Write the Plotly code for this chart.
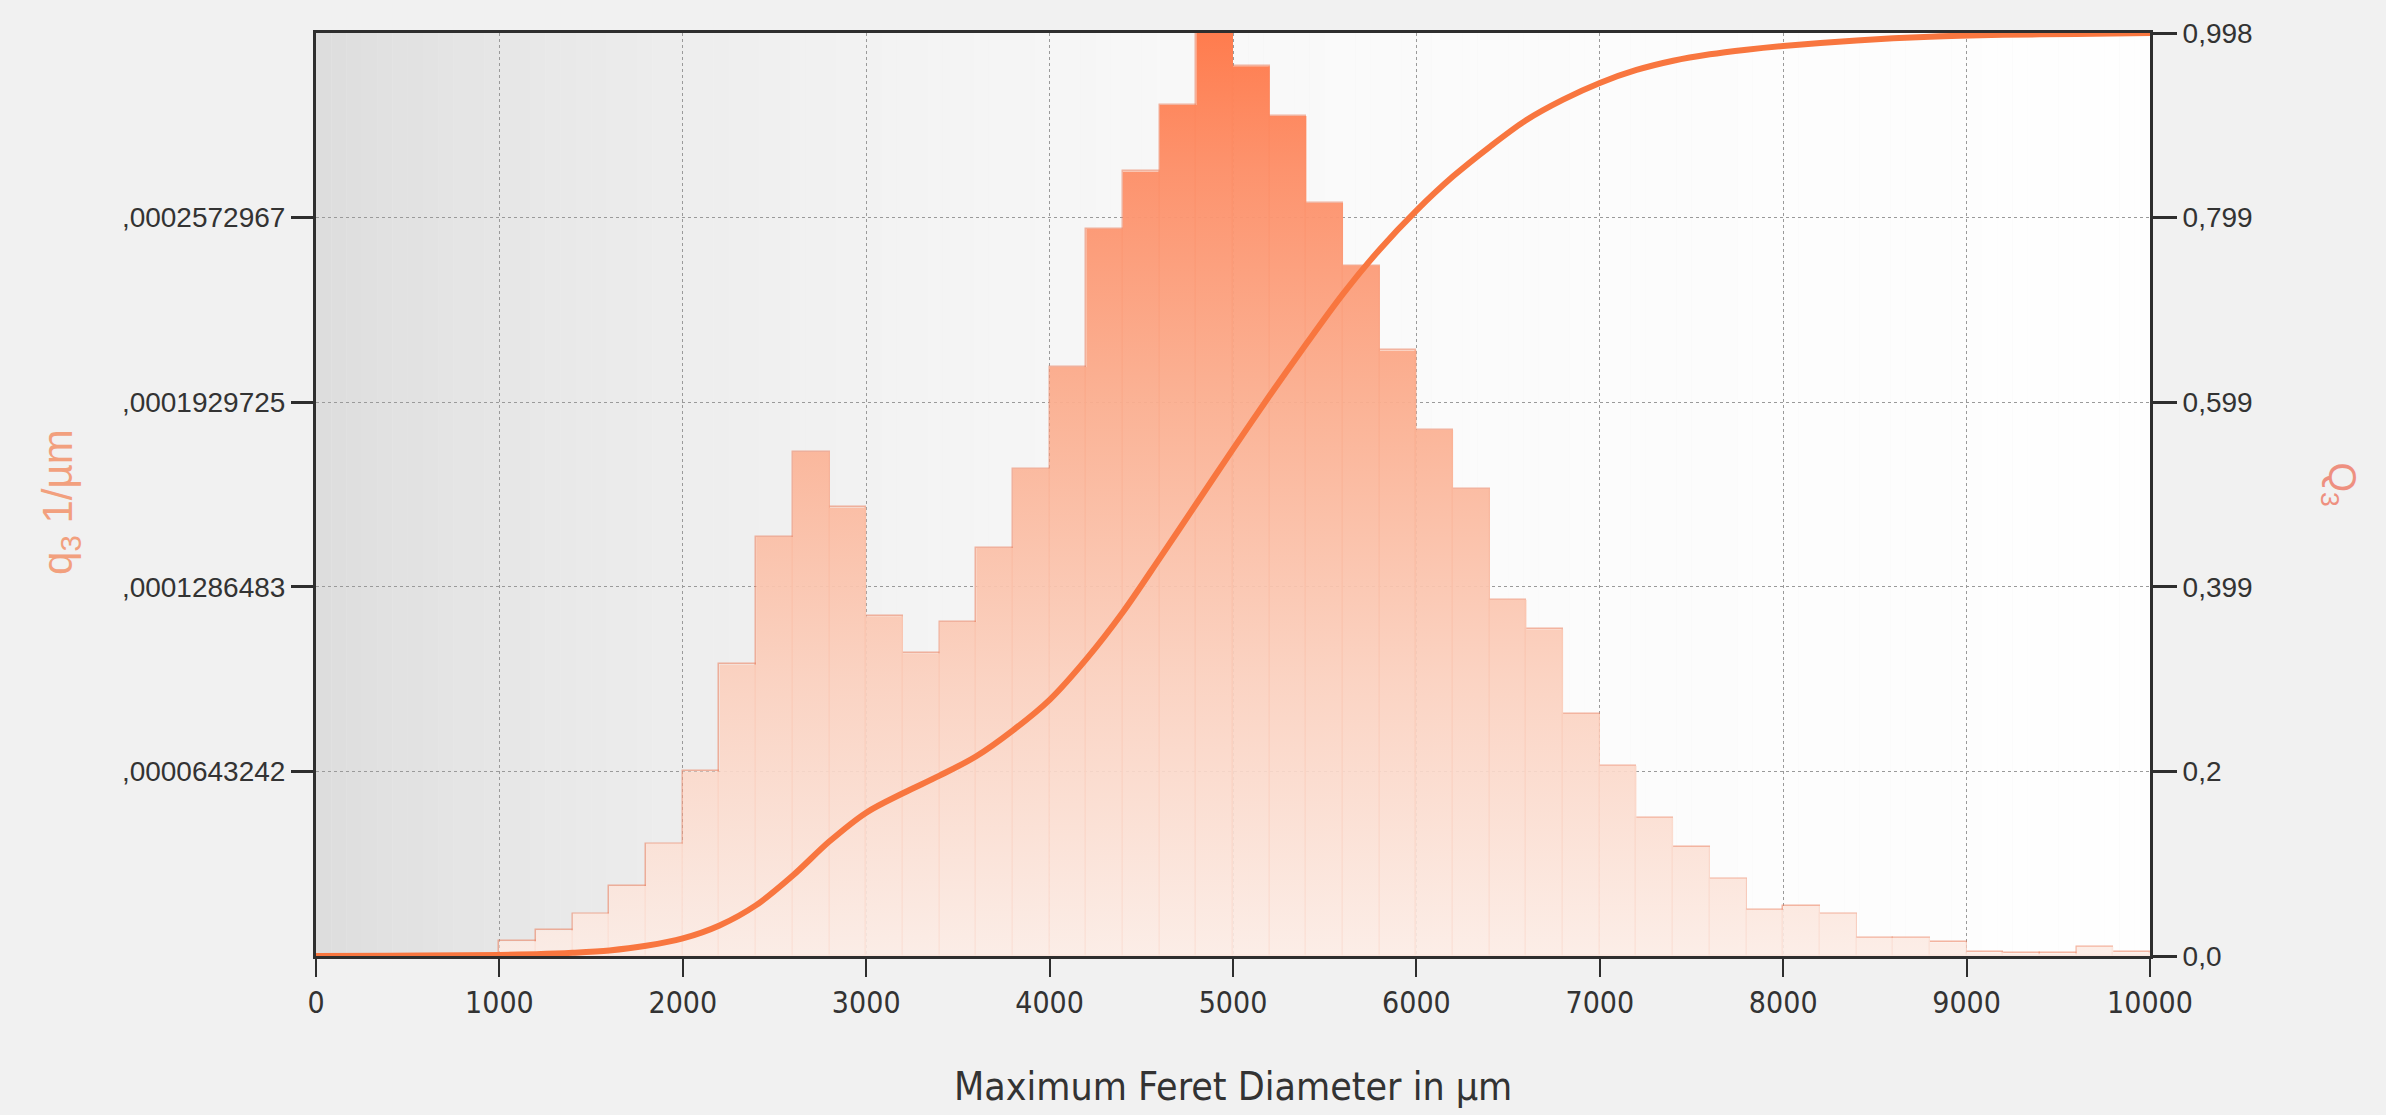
import math
import plotly.graph_objects as go

# ---------------- data ----------------
bin_width = 200
bin_starts = list(range(0, 10000, 200))
q3_values = [
    0, 0, 0, 0, 0,
    5.1e-6, 9.0e-6, 1.48e-5, 2.44e-5, 3.92e-5,
    6.43e-5, 1.016e-4, 1.460e-4, 1.756e-4, 1.563e-4,
    1.184e-4, 1.055e-4, 1.164e-4, 1.422e-4, 1.698e-4,
    2.052e-4, 2.534e-4, 2.734e-4, 2.965e-4, 3.229e-4,
    3.100e-4, 2.927e-4, 2.624e-4, 2.406e-4, 2.110e-4,
    1.833e-4, 1.627e-4, 1.241e-4, 1.139e-4, 8.43e-5,
    6.63e-5, 4.82e-5, 3.80e-5, 2.70e-5, 1.61e-5,
    1.74e-5, 1.48e-5, 6.4e-6, 6.4e-6, 4.8e-6,
    1.3e-6, 1.0e-6, 1.0e-6, 3.2e-6, 1.3e-6,
]

Q3_x = [0, 400, 800, 1000, 1200, 1400, 1600, 1800, 2000, 2200, 2400, 2600, 2800,
        3000, 3200, 3400, 3600, 3800, 4000, 4200, 4400, 4600, 4800, 5000, 5200,
        5400, 5600, 5800, 6000, 6200, 6400, 6600, 6800, 7000, 7200, 7400, 7600,
        7800, 8000, 8400, 8800, 9200, 9600, 10000]
Q3_y = [0, 0.0003, 0.0008, 0.0012, 0.002, 0.0035, 0.006, 0.011, 0.019, 0.033, 0.055,
        0.087, 0.124, 0.155, 0.176, 0.195, 0.216, 0.244, 0.277, 0.321, 0.372, 0.430,
        0.489, 0.548, 0.606, 0.662, 0.716, 0.764, 0.806, 0.843, 0.875, 0.904, 0.926,
        0.944, 0.958, 0.968, 0.975, 0.980, 0.984, 0.990, 0.994, 0.996, 0.997, 0.998]

x_tick_vals = list(range(0, 10001, 1000))
x_tick_labels = ["0", "1000", "2000", "3000", "4000", "5000",
                 "6000", "7000", "8000", "9000", "10000"]
left_tick_step = 0.0000643242
left_tick_labels = [",0000643242", ",0001286483", ",0001929725", ",0002572967"]
right_tick_vals = [0, 0.1996, 0.3992, 0.5988, 0.7984, 0.998]
right_tick_labels = ["0,0", "0,2", "0,399", "0,599", "0,799", "0,998"]

x_title = "Maximum Feret Diameter in µm"
left_title = "q<sub>3</sub> 1/µm"
right_title = "Q<sub>3</sub>"

# ---------------- figure ----------------
y_max = 5 * left_tick_step
step_x = bin_starts + [bin_starts[-1] + bin_width]
step_y = q3_values + [q3_values[-1]]
centers = [b + bin_width / 2 for b in bin_starts]

NARROW = "Liberation Sans Narrow, DejaVu Sans Condensed, Arial Narrow, sans-serif"
SANS = "Liberation Sans, Arial, sans-serif"

fig = go.Figure()

fig.add_trace(go.Scatter(
    x=step_x, y=step_y, mode="lines", line=dict(width=0, shape="hv"),
    fill="tozeroy",
    fillgradient=dict(type="vertical", start=0, stop=y_max,
                      colorscale=[[0, "rgba(252,236,229,0.9)"],
                                  [0.3, "rgba(251,208,190,0.92)"],
                                  [0.6, "rgba(251,174,143,0.94)"],
                                  [0.85, "rgba(253,143,104,0.96)"],
                                  [1, "rgba(255,124,78,1)"]]),
    hoverinfo="skip", showlegend=False,
))

fig.add_trace(go.Bar(
    x=centers, y=q3_values, width=bin_width,
    marker=dict(color="rgba(0,0,0,0)",
                line=dict(color="rgba(236,132,98,0.6)", width=1.5)),
    showlegend=False,
))

fig.add_trace(go.Scatter(
    x=Q3_x, y=Q3_y, yaxis="y2", mode="lines",
    line=dict(color="#F8763F", width=6, shape="spline", smoothing=0.9),
    cliponaxis=False, showlegend=False,
))

# background gradient (grey at left to white at right)
shapes = []
n = 120
for i in range(n):
    x0 = 10000 * i / n
    x1 = 10000 * (i + 1) / n
    t = (x0 + x1) / 2 / 10000
    g = 221 + 33 * (1 - math.exp(-t * 3.2)) / (1 - math.exp(-3.2))
    g = int(round(min(254, g)))
    shapes.append(dict(type="rect", xref="x", yref="paper", x0=x0, x1=x1 + 1,
                       y0=0, y1=1, fillcolor=f"rgb({g},{g},{g})",
                       line=dict(width=0), layer="below"))

fig.update_layout(
    width=2386, height=1115,
    margin=dict(l=316, r=236, t=33, b=159),
    paper_bgcolor="#F1F1F1", plot_bgcolor="rgba(0,0,0,0)",
    shapes=shapes, bargap=0,
    xaxis=dict(range=[0, 10000], tickvals=x_tick_vals, ticktext=x_tick_labels,
               tickfont=dict(family=NARROW, size=30, color="#333333"),
               showline=True, linecolor="#2E2E2E", linewidth=3, mirror=True,
               ticks="outside", ticklen=18, tickwidth=2, tickcolor="#2E2E2E",
               showgrid=True, gridcolor="#9A9A9A", griddash="dot", gridwidth=1,
               zeroline=False),
    yaxis=dict(range=[0, y_max],
               tickvals=[(i + 1) * left_tick_step for i in range(len(left_tick_labels))],
               ticktext=left_tick_labels,
               tickfont=dict(family=SANS, size=28, color="#333333"),
               showline=True, linecolor="#2E2E2E", linewidth=3,
               ticks="outside", ticklen=22, tickwidth=3, tickcolor="#2E2E2E",
               showgrid=True, gridcolor="#9A9A9A", griddash="dot", gridwidth=1,
               zeroline=False),
    yaxis2=dict(range=[0, 0.998], overlaying="y", side="right",
                tickvals=right_tick_vals, ticktext=right_tick_labels,
                tickfont=dict(family=SANS, size=28, color="#333333"),
                showline=True, linecolor="#2E2E2E", linewidth=3,
                ticks="outside", ticklen=24, tickwidth=3, tickcolor="#2E2E2E",
                showgrid=False, zeroline=False),
    annotations=[
        dict(text=x_title, xref="paper", yref="paper", x=0.5, y=-0.141,
             xanchor="center", yanchor="middle", showarrow=False,
             font=dict(family=NARROW, size=39, color="#333333")),
        dict(text=left_title, xref="paper", yref="paper", x=-0.139, y=0.492,
             xanchor="center", yanchor="middle", showarrow=False, textangle=-90,
             font=dict(family=SANS, size=42, color="#F2A07E")),
        dict(text=right_title, xref="paper", yref="paper", x=1.103, y=0.511,
             xanchor="center", yanchor="middle", showarrow=False, textangle=90,
             font=dict(family=SANS, size=38, color="#EE9080")),
    ],
)

fig.write_html("out.html")
